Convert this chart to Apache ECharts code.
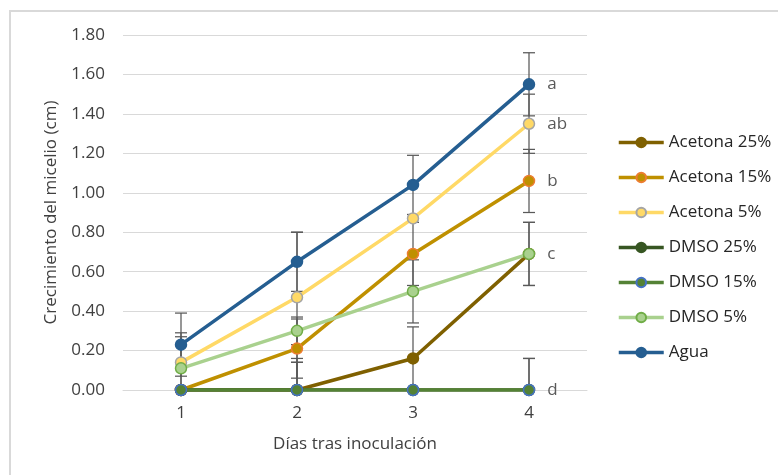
<!DOCTYPE html>
<html>
<head>
<meta charset="utf-8">
<script src="https://cdn.jsdelivr.net/npm/echarts@6/dist/echarts.min.js"></script>
<style>html,body{margin:0;padding:0;background:#fff;}#c{width:778px;height:475px;}</style>
</head>
<body>
<div id="c"></div>
<script>
// ---- data ----
const days = ['1', '2', '3', '4'];
const seriesNames = ['Acetona 25%', 'Acetona 15%', 'Acetona 5%', 'DMSO 25%', 'DMSO 15%', 'DMSO 5%', 'Agua'];
const acetona25 = [0, 0, 0.16, 0.69];
const acetona15 = [0, 0.21, 0.69, 1.06];
const acetona5 = [0.14, 0.47, 0.87, 1.35];
const dmso25 = [0, 0, 0, 0];
const dmso15 = [0, 0, 0, 0];
const dmso5 = [0.11, 0.30, 0.50, 0.69];
const agua = [0.23, 0.65, 1.04, 1.55];
// error bar half-lengths (±)
const errAcetona25 = [0, 0.16, 0.16, 0.16];
const errAcetona15 = [0, 0.15, 0.16, 0.16];
const errAcetona5 = [0.15, 0.33, 0, 0.15];
const errDmso25 = [0, 0.14, 0, 0.16];
const errDmso15 = [0, 0.14, 0, 0.16];
const errDmso5 = [0.16, 0.07, 0.16, 0.16];
const errAgua = [0.16, 0.15, 0.15, 0.16];
// significance letters at day 4
const letters = ['', 'b', 'ab', '', 'd', 'c', 'a'];
const yTicks = ['0.00', '0.20', '0.40', '0.60', '0.80', '1.00', '1.20', '1.40', '1.60', '1.80'];

const values = [acetona25, acetona15, acetona5, dmso25, dmso15, dmso5, agua];
const errors = [errAcetona25, errAcetona15, errAcetona5, errDmso25, errDmso15, errDmso5, errAgua];
const lineColors = ['#7F6000', '#BF9000', '#FFD966', '#375623', '#548235', '#A9D18E', '#255E91'];
const borderColors = ['#7F6000', '#ED7D31', '#A5A5A5', '#375623', '#4472C4', '#70AD47', '#255E91'];

const FONT = 'Open Sans';
const FS = 17;
const chart = echarts.init(document.getElementById('c'));

const errData = [];
values.forEach((arr, s) => arr.forEach((v, i) => { if (errors[s][i] > 0) errData.push([i, v, errors[s][i]]); }));

const lineSeries = seriesNames.map((name, s) => {
  const letter = letters[s];
  return {
    name: name,
    type: 'line',
    z: 3,
    symbol: 'circle',
    symbolSize: 11,
    lineStyle: { color: lineColors[s], width: 3.5 },
    itemStyle: { color: lineColors[s], borderColor: borderColors[s], borderWidth: 1.5 },
    emphasis: { disabled: true },
    animation: false,
    data: values[s].map((v, i) => {
      if (i === values[s].length - 1 && letter) {
        return { value: v, label: { show: true, formatter: letter, position: 'right', distance: 12, color: '#595959', fontSize: FS, fontFamily: FONT } };
      }
      return v;
    })
  };
});

const errSeries = {
  type: 'custom',
  z: 1,
  silent: true,
  animation: false,
  data: errData,
  renderItem: function (params, api) {
    const x = api.value(0), y = api.value(1), e = api.value(2);
    const top = api.coord([x, y + e]);
    const lowV = y - e;
    const bot = api.coord([x, Math.max(0, lowV)]);
    const hw = 6;
    const st = { stroke: '#595959', lineWidth: 1.25 };
    const children = [
      { type: 'line', shape: { x1: top[0], y1: top[1], x2: bot[0], y2: bot[1] }, style: st },
      { type: 'line', shape: { x1: top[0] - hw, y1: top[1], x2: top[0] + hw, y2: top[1] }, style: st }
    ];
    if (lowV >= 0) children.push({ type: 'line', shape: { x1: bot[0] - hw, y1: bot[1], x2: bot[0] + hw, y2: bot[1] }, style: st });
    return { type: 'group', children: children };
  }
};

chart.setOption({
  backgroundColor: '#fff',
  animation: false,
  textStyle: { fontFamily: FONT },
  graphic: [{ type: 'rect', shape: { x: 10, y: 11, width: 800, height: 500 }, style: { fill: 'none', stroke: '#D9D9D9', lineWidth: 2 }, silent: true }],
  grid: { left: 123, right: 191, top: 35, bottom: 85 },
  legend: {
    orient: 'vertical', left: 612, top: 129,
    itemWidth: 45, itemHeight: 12, itemGap: 18,
    lineStyle: { width: 3.5 },
    textStyle: { fontSize: FS, color: '#262626', fontFamily: FONT },
    selectedMode: false,
    data: seriesNames
  },
  xAxis: {
    type: 'category', data: days, boundaryGap: true,
    axisLine: { show: true, lineStyle: { color: '#D9D9D9', width: 1 } },
    axisTick: { show: false },
    axisLabel: { color: '#404040', fontSize: FS, margin: 15, fontFamily: FONT },
    name: 'Días tras inoculación', nameLocation: 'middle', nameGap: 46,
    nameTextStyle: { color: '#404040', fontSize: FS, fontFamily: FONT }
  },
  yAxis: {
    type: 'value', min: 0, max: 1.8, interval: 0.2,
    axisLine: { show: false }, axisTick: { show: false },
    splitLine: { lineStyle: { color: '#D9D9D9', width: 1 } },
    axisLabel: { color: '#404040', fontSize: FS, margin: 18, fontFamily: FONT, formatter: function (v) { return yTicks[Math.round(v / 0.2)]; } },
    name: 'Crecimiento del micelio (cm)', nameLocation: 'middle', nameRotate: 90, nameGap: 63,
    nameTextStyle: { color: '#404040', fontSize: FS, fontFamily: FONT }
  },
  series: [errSeries].concat(lineSeries)
});
</script>
</body>
</html>
